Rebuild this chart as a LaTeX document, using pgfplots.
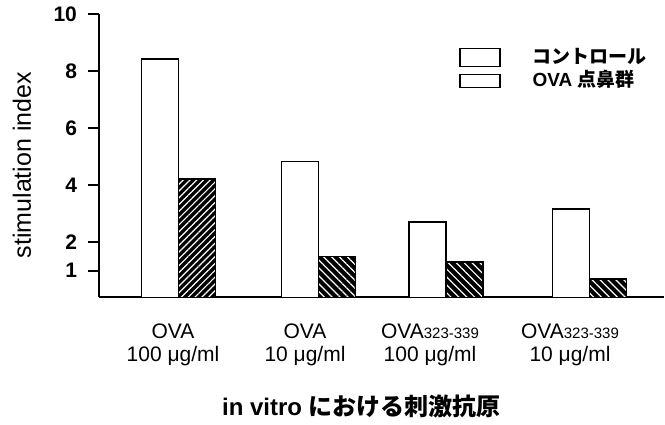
\documentclass[border=0pt]{standalone}
\usepackage{pgfplots}
\pgfplotsset{compat=1.18}
\usepackage{fontspec}
\setmainfont{Liberation Sans}
\newfontfamily\cjk{Noto Sans CJK JP}
\usetikzlibrary{patterns.meta}
\begin{document}
\begin{tikzpicture}
\begin{axis}[
 x=0.5pt, y=14.26pt,
 xmin=99, xmax=664, ymin=0.067, ymax=10,
 axis lines=left, axis line style={-, line width=0.9pt},
 xtick={173,305,430,570},
 xticklabels={{OVA\\100 μg/ml},{OVA\\10 μg/ml},{OVA{\fontsize{7.5}{9}\selectfont 323-339}\\100 μg/ml},{OVA{\fontsize{7.5}{9}\selectfont 323-339}\\10 μg/ml}},
 xticklabel style={align=center, font=\fontsize{10.5}{11.5}\selectfont, yshift=-4pt},
 xtick style={draw=none},
 ytick={1,2,4,6,8,10},
 ytick style={line width=0.8pt, black},
 tick align=outside, major tick length=5.5pt,
 yticklabel style={font=\fontsize{10.5}{11}\selectfont\bfseries, xshift=-2pt},
 /pgf/number format/assume math mode=true,
 ylabel={stimulation index},
 ylabel style={at={(axis description cs:-0.1363,0.467)}, anchor=center, font=\fontsize{12.5}{14}\selectfont},
 xlabel={\bfseries in vitro {\cjk\bfseries における刺激抗原}},
 xlabel style={at={(axis description cs:0.4646,-0.3837)}, anchor=center, font=\fontsize{12}{14}\selectfont},
 legend style={at={(axis description cs:0.637,0.8835)}, anchor=north west, draw=none, fill=none, inner sep=0pt, row sep=1.75pt, column sep=15pt, font=\fontsize{9.5}{11}\selectfont\bfseries, cells={anchor=west}, nodes={inner sep=1pt, text height=7pt, text depth=1pt}},
]
\addplot[ybar, bar width=18.5pt, bar shift=0pt, fill=white, draw=black, line width=0.75pt, forget plot]
 coordinates {(159.8,8.42) (299.8,4.84) (427.5,2.71) (570.8,3.17)};
\addplot[ybar, bar width=18.5pt, bar shift=0pt, fill=black, draw=black, line width=0.75pt, forget plot,
 postaction={pattern={Lines[angle=45,distance=2.4pt,line width=0.6pt]}, pattern color=white}]
 coordinates {(196.8,4.21)};
\addplot[ybar, bar width=18.5pt, bar shift=0pt, fill=black, draw=black, line width=0.75pt, forget plot,
 postaction={pattern={Lines[angle=-45,distance=2.8pt,line width=0.6pt]}, pattern color=white}]
 coordinates {(336.8,1.50) (464.5,1.30) (607.8,0.71)};
\addlegendimage{legend image code/.code={\draw[fill=white, line width=0.7pt] (0pt,-4.5pt) rectangle (20pt,4.5pt);}}
\addlegendentry{{\cjk\bfseries コントロール}}
\addlegendimage{legend image code/.code={\draw[fill=white, line width=0.7pt] (0pt,-3.25pt) rectangle (20pt,3.25pt);}}
\addlegendentry{OVA {\cjk\bfseries 点鼻群}}
\coordinate (bbA) at (axis cs:0,10.386);
\coordinate (bbB) at (axis cs:665,-4.376);
\end{axis}
\path (bbA) rectangle (bbB);
\end{tikzpicture}
\end{document}
